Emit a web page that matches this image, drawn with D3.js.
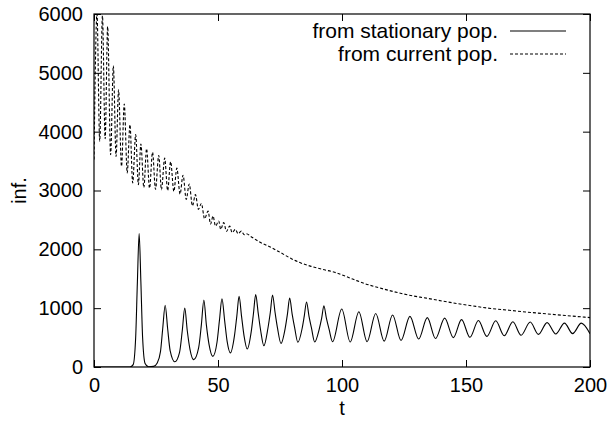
<!DOCTYPE html>
<html>
<head>
<meta charset="utf-8">
<script src="https://cdn.jsdelivr.net/npm/d3@7"></script>
<style>
  body { margin: 0; background: #fff; }
  svg { display: block; font-family: "Liberation Sans", Arial, Helvetica, sans-serif; }
</style>
</head>
<body>
<div id="chart"></div>
<script>
// Infection curves, two initial populations (gnuplot-style figure)

var xTicks = [0, 50, 100, 150, 200];
var yTicks = [0, 1000, 2000, 3000, 4000, 5000, 6000];
var seriesNames = ["from stationary pop.", "from current pop."];

// [t, infected]
var stationaryPop = [
  [0,0],[14.5,0],[15.8,40],[16.8,500],[17.5,1450],[18.2,2270],[18.9,1450],[19.6,500],[20.6,60],
  [22,5],[24,10],[25.5,70],[26.8,260],[27.7,650],[28.7,1050],[29.7,650],[30.7,280],[32.6,90],
  [34.5,250],[35.6,620],[36.6,1000],[37.6,620],[38.7,300],[40.2,125],[42.2,330],[43.3,720],
  [44.3,1140],[45.3,720],[46.4,380],[47.9,180],[49.6,420],[50.6,800],[51.6,1160],[52.7,780],
  [53.7,430],[55,240],[56.6,520],[57.6,870],[58.5,1200],[59.5,860],[60.5,530],[61.8,305],
  [63.4,600],[64.3,910],[65.2,1230],[66.2,920],[67.2,620],[68.5,360],[70.1,650],[71.1,930],
  [72,1225],[73,930],[74,660],[75.4,400],[77.1,660],[78,900],[78.9,1170],[79.9,900],[80.9,670],
  [82.2,420],[83.9,650],[84.8,870],[85.7,1105],[86.7,860],[87.7,660],[89,425],[90.8,640],
  [91.8,830],[92.7,1040],[93.7,830],[94.8,640],[96.2,430],[99.9,985],[103.3,425],[106.8,940],
  [110.1,430],[113.6,910],[117,440],[120.4,885],[123.8,450],[127.4,860],[130.9,475],[134.4,840],
  [137.7,485],[141.4,830],[144.9,500],[148.2,805],[151.6,505],[155,790],[158.4,520],[162,785],
  [165.4,530],[168.9,770],[172.2,540],[175.9,765],[179.2,555],[182.7,755],[186.2,560],
  [189.7,745],[193,568],[196.5,745],[200,565]
];

var currentPop = [
  [0,3525],[1.2,6000],[2.3,3840],[3.4,5970],[4.5,3880],[5.5,5785],[6.7,3610],[7.8,5120],
  [8.9,3580],[9.9,4710],[11.1,3410],[12.2,4470],[13.4,3300],[14.5,4120],[15.6,3130],[16.8,3950],
  [17.9,3100],[18.9,3790],[20.1,3050],[21.2,3710],[22.4,3040],[23.6,3650],[24.8,3020],[26.1,3595],
  [27.2,3015],[28.5,3550],[29.7,3000],[30.9,3490],[32.2,2985],[33.4,3380],[34.7,2940],[35.9,3260],
  [37.2,2850],[38.4,3110],[39.7,2740],[40.9,2930],[42.1,2680],[43.3,2780],[44.6,2520],[46,2650],
  [47,2430],[48,2565],[49,2395],[50.3,2480],[51.1,2340],[52.3,2455],[53.4,2305],[54.7,2395],
  [55.7,2285],[57,2340],[58.1,2265],[59.4,2310],[60.5,2250],[61.4,2265],[63.5,2210],[67,2120],
  [71.5,2030],[75,1950],[79.6,1840],[83,1775],[87.6,1710],[92,1660],[97,1610],[104.3,1495],
  [109,1420],[113.8,1360],[120,1290],[127.2,1220],[134,1170],[140.6,1120],[147,1075],[154,1030],
  [160,995],[167.4,965],[174,935],[180.8,910],[190,875],[200,840]
];

var totalW = 608, totalH = 426;
var margin = { top: 14, right: 18, bottom: 59, left: 94 };
var width = totalW - margin.left - margin.right;
var height = totalH - margin.top - margin.bottom;

var svg = d3.select("#chart").append("svg")
    .attr("width", totalW)
    .attr("height", totalH);

var g = svg.append("g")
    .attr("transform", "translate(" + margin.left + "," + margin.top + ")");

var x = d3.scaleLinear().domain([0, 200]).range([0, width]);
var y = d3.scaleLinear().domain([0, 6000]).range([height, 0]);

svg.append("defs").append("clipPath").attr("id", "plot-clip")
  .append("rect").attr("width", width).attr("height", height);

// --- Axes (ticks pointing inward, mirrored on top/right) ---
var tickLen = 7;
var fmt = d3.format("d");
function styleAxis(sel) {
    sel.select(".domain").remove();
    sel.selectAll("line").attr("stroke", "#000").attr("stroke-width", 1);
    sel.selectAll("text").style("font-size", "20px").attr("fill", "#000");
}

g.append("g")
    .attr("transform", "translate(0," + height + ")")
    .call(d3.axisBottom(x).tickValues(xTicks).tickFormat(fmt)
        .tickSizeInner(-tickLen).tickSizeOuter(0).tickPadding(tickLen + 4))
    .call(styleAxis);

g.append("g")
    .call(d3.axisTop(x).tickValues(xTicks).tickSizeInner(-tickLen).tickSizeOuter(0).tickFormat(""))
    .call(styleAxis);

g.append("g")
    .call(d3.axisLeft(y).tickValues(yTicks).tickFormat(fmt)
        .tickSizeInner(-tickLen).tickSizeOuter(0).tickPadding(tickLen + 4))
    .call(styleAxis);

g.append("g")
    .attr("transform", "translate(" + width + ",0)")
    .call(d3.axisRight(y).tickValues(yTicks).tickSizeInner(-tickLen).tickSizeOuter(0).tickFormat(""))
    .call(styleAxis);

// --- Lines ---
var line = d3.line()
    .curve(d3.curveMonotoneX)
    .x(function(d) { return x(d[0]); })
    .y(function(d) { return y(d[1]); });

var plot = g.append("g").attr("clip-path", "url(#plot-clip)");

plot.append("path")
    .datum(currentPop)
    .attr("fill", "none")
    .attr("stroke", "#000")
    .attr("stroke-width", 1.1)
    .attr("stroke-dasharray", "3,2")
    .attr("d", line);

plot.append("path")
    .datum(stationaryPop)
    .attr("fill", "none")
    .attr("stroke", "#000")
    .attr("stroke-width", 1.1)
    .attr("d", line);

// --- Frame ---
g.append("rect")
    .attr("width", width)
    .attr("height", height)
    .attr("fill", "none")
    .attr("stroke", "#000")
    .attr("stroke-width", 1.2);

// --- Axis labels ---
svg.append("text")
    .attr("x", margin.left + width / 2)
    .attr("y", 415)
    .attr("text-anchor", "middle")
    .style("font-size", "20px")
    .text("t");

svg.append("text")
    .attr("transform", "translate(26," + (margin.top + height / 2) + ") rotate(-90)")
    .attr("text-anchor", "middle")
    .style("font-size", "20px")
    .text("inf.");

// --- Legend ---
var legend = svg.append("g");
seriesNames.forEach(function(name, i) {
    var ly = 31 + i * 23;
    legend.append("text")
        .attr("x", 498)
        .attr("y", ly)
        .attr("dy", "0.35em")
        .attr("text-anchor", "end")
        .style("font-size", "21px")
        .text(name);
    legend.append("line")
        .attr("x1", 510).attr("x2", 566)
        .attr("y1", ly).attr("y2", ly)
        .attr("stroke", "#000")
        .attr("stroke-width", 1.1)
        .attr("stroke-dasharray", i === 1 ? "3,2" : null);
});
</script>
</body>
</html>
